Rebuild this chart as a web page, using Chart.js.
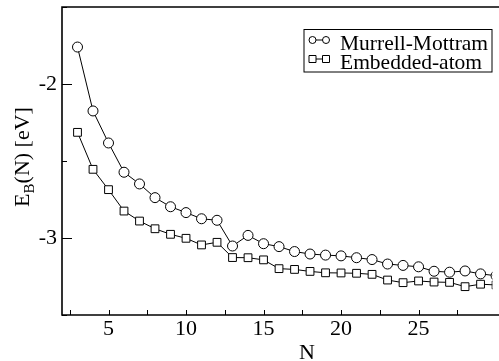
<!DOCTYPE html>
<html>
<head>
<meta charset="utf-8">
<script src="https://cdn.jsdelivr.net/npm/chart.js@4/dist/chart.umd.min.js"></script>
<style>
    html, body { margin: 0; padding: 0; background: #fff; overflow: hidden; }
    #wrap { width: 499px; height: 361px; }
</style>
</head>
<body>
<div id="wrap"><canvas id="grafico" width="499" height="361"></canvas></div>
<script>
// ===== DADOS =====
const tamanhos = [3, 4, 5, 6, 7, 8, 9, 10, 11, 12, 13, 14, 15, 16, 17, 18, 19, 20, 21, 22, 23, 24, 25, 26, 27, 28, 29, 30];
const murrellMottram = [-1.76, -2.175, -2.383, -2.573, -2.649, -2.738, -2.797, -2.835, -2.875, -2.885,
    -3.052, -2.983, -3.037, -3.056, -3.088, -3.104, -3.111, -3.116, -3.128, -3.14,
    -3.169, -3.178, -3.187, -3.216, -3.222, -3.214, -3.233, -3.245];
const embeddedAtom = [-2.314, -2.554, -2.686, -2.825, -2.89, -2.94, -2.976, -3.002, -3.045, -3.028,
    -3.127, -3.128, -3.142, -3.199, -3.204, -3.217, -3.226, -3.227, -3.229, -3.236,
    -3.273, -3.29, -3.279, -3.286, -3.288, -3.316, -3.3, -3.305];
const nomesSeries = ['Murrell-Mottram', 'Embedded-atom'];
const ticksX = [5, 10, 15, 20, 25];
const ticksXMenores = [2.5, 7.5, 12.5, 17.5, 22.5, 27.5];
const ticksY = [-3, -2];
const ticksYMenores = [-3.5, -2.5, -1.5];

const FONTE = "'Liberation Serif', 'Times New Roman', serif";

// Moldura, ticks internos, titulos e legenda
const pluginMoldura = {
    id: 'moldura',
    afterDraw(chart) {
        const ctx = chart.ctx;
        const area = chart.chartArea;
        const sx = chart.scales.x;
        const sy = chart.scales.y;

        ctx.save();
        ctx.strokeStyle = '#000';
        ctx.lineWidth = 1.6;
        ctx.beginPath();
        ctx.moveTo(chart.width, area.top);
        ctx.lineTo(area.left, area.top);
        ctx.lineTo(area.left, area.bottom);
        ctx.lineTo(chart.width, area.bottom);
        ctx.stroke();

        ctx.lineWidth = 1;
        ctx.beginPath();
        ticksY.forEach(v => {
            const y = Math.round(sy.getPixelForValue(v)) + 0.5;
            ctx.moveTo(area.left, y); ctx.lineTo(area.left + 10, y);
        });
        ticksYMenores.forEach(v => {
            const y = Math.round(sy.getPixelForValue(v)) + 0.5;
            ctx.moveTo(area.left, y); ctx.lineTo(area.left + 5, y);
        });
        ticksX.concat(ticksXMenores).forEach(v => {
            const x = Math.round(sx.getPixelForValue(v)) + 0.5;
            ctx.moveTo(x, area.bottom); ctx.lineTo(x, area.bottom - 5);
        });
        ctx.stroke();

        // titulo X
        ctx.fillStyle = '#000';
        ctx.font = '22px ' + FONTE;
        ctx.textAlign = 'center';
        ctx.textBaseline = 'alphabetic';
        ctx.fillText('N', 307, 359);

        // titulo Y com subscrito
        const p1 = 'E', p2 = 'B', p3 = '(N) [eV]';
        ctx.font = '22px ' + FONTE;
        const w1 = ctx.measureText(p1).width;
        const w3 = ctx.measureText(p3).width;
        ctx.font = '15px ' + FONTE;
        const w2 = ctx.measureText(p2).width;
        const total = w1 + w2 + w3;
        ctx.translate(29, 157);
        ctx.rotate(-Math.PI / 2);
        ctx.textAlign = 'left';
        let x0 = -total / 2;
        ctx.font = '22px ' + FONTE;
        ctx.fillText(p1, x0, 0);
        ctx.font = '15px ' + FONTE;
        ctx.fillText(p2, x0 + w1, 5);
        ctx.font = '22px ' + FONTE;
        ctx.fillText(p3, x0 + w1 + w2, 0);
        ctx.restore();

        // legenda
        ctx.save();
        ctx.strokeStyle = '#000';
        ctx.lineWidth = 1;
        ctx.fillStyle = '#fff';
        ctx.fillRect(304, 29.5, 188, 42.5);
        ctx.strokeRect(304, 29.5, 188, 42.5);
        const linhas = [40, 59];
        linhas.forEach((yy, i) => {
            ctx.beginPath();
            ctx.moveTo(312.5, yy); ctx.lineTo(326, yy);
            ctx.stroke();
            [312.5, 326].forEach(xx => {
                ctx.beginPath();
                if (i === 0) ctx.arc(xx, yy, 3.5, 0, Math.PI * 2);
                else ctx.rect(xx - 3.5, yy - 3.5, 7, 7);
                ctx.fillStyle = '#fff';
                ctx.fill();
                ctx.stroke();
            });
            ctx.fillStyle = '#000';
            ctx.font = '21.5px ' + FONTE;
            ctx.textAlign = 'left';
            ctx.textBaseline = 'alphabetic';
            ctx.fillText(nomesSeries[i], 340, yy + 9.5);
        });
        ctx.restore();
    }
};

const ctx = document.getElementById('grafico');

new Chart(ctx, {
    type: 'line',
    data: {
        datasets: [{
            label: nomesSeries[0],
            data: tamanhos.map((n, i) => ({ x: n, y: murrellMottram[i] })),
            borderColor: '#000',
            borderWidth: 1,
            pointStyle: 'circle',
            pointRadius: 5,
            pointBackgroundColor: '#fff',
            pointBorderColor: '#000',
            pointBorderWidth: 1,
            tension: 0
        }, {
            label: nomesSeries[1],
            data: tamanhos.map((n, i) => ({ x: n, y: embeddedAtom[i] })),
            borderColor: '#000',
            borderWidth: 1,
            pointStyle: 'rect',
            pointRadius: 5.5,
            pointBackgroundColor: '#fff',
            pointBorderColor: '#000',
            pointBorderWidth: 1,
            tension: 0
        }]
    },
    options: {
        responsive: false,
        animation: false,
        devicePixelRatio: 1,
        layout: { padding: 0 },
        plugins: {
            legend: { display: false },
            tooltip: { enabled: false }
        },
        scales: {
            x: {
                type: 'linear',
                min: 2,
                max: 29.77,
                grid: { display: false, drawTicks: false },
                border: { display: false },
                afterBuildTicks: s => { s.ticks = ticksX.map(v => ({ value: v })); },
                afterFit: s => { s.height = 46; s.paddingLeft = 0; s.paddingRight = 0; },
                ticks: {
                    color: '#000',
                    padding: 1,
                    maxRotation: 0,
                    font: { family: FONTE, size: 22 }
                }
            },
            y: {
                type: 'linear',
                min: -3.5,
                max: -1.5,
                grid: { display: false, drawTicks: false },
                border: { display: false },
                afterBuildTicks: s => { s.ticks = ticksY.map(v => ({ value: v })); },
                afterFit: s => { s.width = 62; s.paddingTop = 7; s.paddingBottom = 0; },
                ticks: {
                    color: '#000',
                    padding: 5,
                    font: { family: FONTE, size: 22 }
                }
            }
        }
    },
    plugins: [pluginMoldura]
});
</script>
</body>
</html>
